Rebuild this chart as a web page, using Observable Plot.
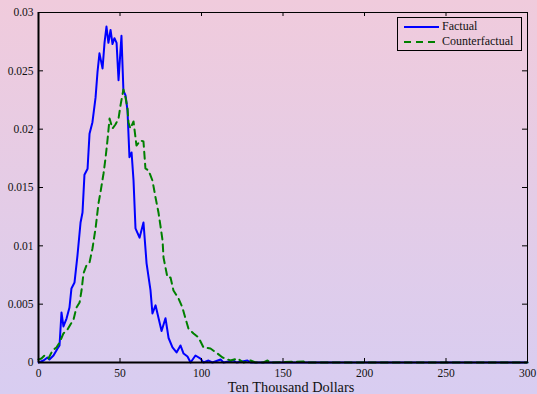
<!DOCTYPE html>
<html>
<head>
<meta charset="utf-8">
<script src="https://cdn.jsdelivr.net/npm/d3@7"></script>
<script src="https://cdn.jsdelivr.net/npm/@observablehq/plot@0.6"></script>
<style>
  html, body { margin: 0; padding: 0; }
  body { width: 537px; height: 394px; overflow: hidden;
    background: linear-gradient(to bottom, #f0cbdc 0%, #d8cdf1 100%); }
  #wrap { position: relative; width: 537px; height: 394px; font-family: "Liberation Serif", "Times New Roman", serif; }
  #wrap svg text { font-family: "Liberation Serif", "Times New Roman", serif !important; }
  #legend { position: absolute; left: 397px; top: 17px; width: 125px; height: 34px;
    border: 1px solid #000; box-sizing: border-box; font-size: 12px; color: #111; }
  #legend .row { position: absolute; left: 6px; height: 15px; display: flex; align-items: center; }
  #legend svg { margin-right: 3px; }
</style>
</head>
<body>
<div id="wrap"></div>
<script>
const xTicks = [0, 50, 100, 150, 200, 250, 300];
const yTicks = [0, 0.005, 0.01, 0.015, 0.02, 0.025, 0.03];
const seriesNames = ["Factual", "Counterfactual"];
const seriesColors = ["#0000ff", "#008000"];

const factualX = [0, 3.1, 5.5, 6.7, 9.2, 11.7, 12.9, 14.1, 15.3, 17.2, 19.0, 20.2, 22.1, 23.9, 25.8, 27.0, 28.2, 30.1, 31.3, 33.1, 35.0, 36.2, 37.4, 39.3, 40.5, 41.7, 42.9, 44.2, 45.4, 46.6, 47.9, 49.1, 50.9, 52.1, 53.4, 54.6, 55.8, 57.1, 58.3, 59.5, 62.0, 64.4, 66.3, 68.7, 69.9, 71.8, 75.5, 77.9, 79.8, 82.2, 84.7, 87.1, 89.0, 91.4, 93.3, 96.3, 99.4, 101.2, 104.3, 106.7, 111.7, 113.5, 119.6, 121.5, 128.2, 130.1, 300];
const factualY = [0, 0.00017, 0.00043, 0.00026, 0.0006, 0.0012, 0.00146, 0.00429, 0.00309, 0.00377, 0.00471, 0.00634, 0.00686, 0.00917, 0.012, 0.01286, 0.0161, 0.0166, 0.0196, 0.0206, 0.0227, 0.0249, 0.0265, 0.0252, 0.0274, 0.0288, 0.0274, 0.0285, 0.0273, 0.0278, 0.0274, 0.0242, 0.028, 0.0233, 0.0229, 0.0216, 0.0176, 0.018, 0.0156, 0.0115, 0.0107, 0.012, 0.0085, 0.0062, 0.0042, 0.0049, 0.0027, 0.0038, 0.0021, 0.0013, 0.00086, 0.00146, 0.00077, 0.00051, 0, 0.0006, 0.00034, 0, 0.00017, 0, 0.00026, 0, 0.00017, 0, 0.00017, 0, 0];

const counterX = [0, 1.8, 3.7, 6.1, 8.6, 11.0, 12.9, 15.3, 17.8, 19.6, 21.5, 23.3, 25.2, 26.4, 27.6, 29.4, 31.3, 33.1, 35.0, 36.8, 38.0, 39.9, 41.1, 42.3, 43.6, 45.4, 47.2, 49.1, 50.3, 52.1, 53.4, 54.6, 55.2, 56.4, 58.3, 60.1, 62.6, 64.4, 65.6, 67.5, 69.9, 71.8, 73.6, 74.8, 76.1, 76.7, 79.1, 81.0, 82.8, 85.9, 88.3, 90.2, 92.0, 95.1, 98.2, 101.2, 105.5, 109.8, 112.9, 117.8, 122.1, 125.8, 130.1, 133.1, 138.0, 140.5, 142.3, 162.6, 164.4, 300];
const counterY = [0.00026, 0.00034, 0.0006, 0.00034, 0.00103, 0.00129, 0.00171, 0.00249, 0.00283, 0.00326, 0.00369, 0.00471, 0.00514, 0.00617, 0.00763, 0.00831, 0.00857, 0.00977, 0.01149, 0.01363, 0.01457, 0.0162, 0.01749, 0.01903, 0.02091, 0.02006, 0.0204, 0.02091, 0.02203, 0.0234, 0.02271, 0.02177, 0.02057, 0.02006, 0.02066, 0.0186, 0.01903, 0.01894, 0.01663, 0.01646, 0.0156, 0.01414, 0.01286, 0.01174, 0.01046, 0.009, 0.00729, 0.00729, 0.00617, 0.00549, 0.00471, 0.00377, 0.00291, 0.00249, 0.00214, 0.00129, 0.0012, 0.00077, 0.00043, 0.00017, 0.00034, 0, 0.00017, 0, 0, 0.00017, 0, 0.00009, 0, 0];

const factual = factualX.map((x, i) => ({x, y: factualY[i]}));
const counter = counterX.map((x, i) => ({x, y: counterY[i]}));

const W = 537, H = 394, mL = 38, mR = 10, mT = 12, mB = 32;
const pw = W - mL - mR, ph = H - mT - mB;
const tl = 4;

const chart = Plot.plot({
  width: W, height: H,
  marginLeft: mL, marginRight: mR, marginTop: mT, marginBottom: mB,
  style: {background: "transparent", fontFamily: "'Liberation Serif', 'Times New Roman', serif", fontSize: "11.5px", color: "#111", overflow: "visible"},
  x: {domain: [0, 300]},
  y: {domain: [0, 0.03]},
  marks: [
    Plot.line(factual, {x: "x", y: "y", stroke: seriesColors[0], strokeWidth: 2}),
    Plot.line(counter, {x: "x", y: "y", stroke: seriesColors[1], strokeWidth: 2, strokeDasharray: "7,5"}),
    Plot.frame({stroke: "#000", strokeWidth: 1}),
    Plot.tickX(xTicks, {x: d => d, insetTop: ph - tl, stroke: "#000"}),
    Plot.tickX(xTicks, {x: d => d, insetBottom: ph - tl, stroke: "#000"}),
    Plot.tickY(yTicks, {y: d => d, insetRight: pw - 5, stroke: "#000"}),
    Plot.tickY(yTicks, {y: d => d, insetLeft: pw - 5, stroke: "#000"}),
    Plot.axisX(xTicks, {tickSize: 0, tickPadding: 6, label: "Ten Thousand Dollars", labelAnchor: "center", labelArrow: "none", labelOffset: 29, fontSize: 11.5}),
    Plot.axisY(yTicks, {tickSize: 0, tickPadding: 5, label: null, fontSize: 11.5, tickFormat: d => String(+d.toFixed(3))}),
    Plot.ruleX([0], {stroke: "#000", strokeWidth: 2}),
    Plot.ruleY([0], {stroke: "#000", strokeWidth: 2})
  ]
});
const wrap = document.getElementById("wrap");
wrap.appendChild(chart);
chart.querySelectorAll("[aria-label='x-axis label']").forEach(g => {
  g.querySelectorAll("text").forEach(t => t.style.fontSize = "14.3px");
  const prev = g.getAttribute("transform") || "";
  g.setAttribute("transform", prev + " translate(8,0)");
});

const legend = document.createElement("div");
legend.id = "legend";
seriesNames.forEach((name, i) => {
  const row = document.createElement("div");
  row.className = "row";
  row.style.top = (i === 0 ? 1 : 16) + "px";
  const dash = i === 1 ? 'stroke-dasharray="7,5"' : "";
  row.innerHTML = `<svg width="35" height="6"><line x1="0" y1="3" x2="35" y2="3" stroke="${seriesColors[i]}" stroke-width="2" ${dash}/></svg><span>${name}</span>`;
  legend.appendChild(row);
});
wrap.appendChild(legend);
</script>
</body>
</html>
